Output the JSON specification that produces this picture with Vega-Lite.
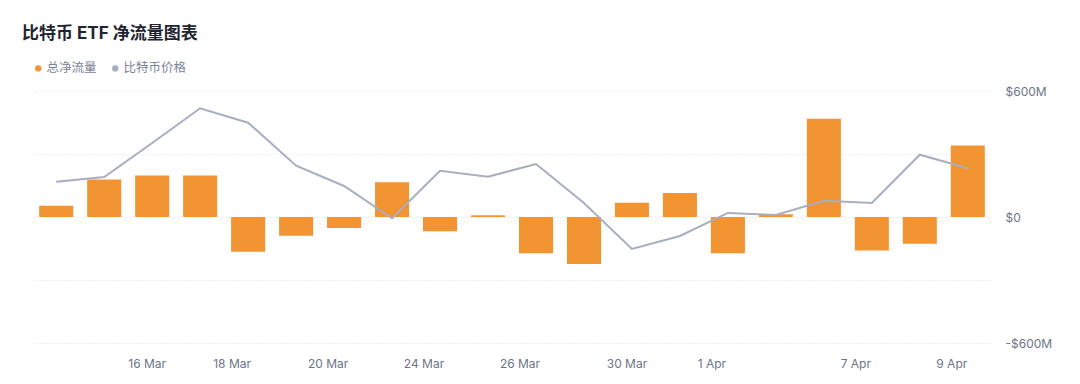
{
  "$schema": "https://vega.github.io/schema/vega-lite/v6.json",
  "width": 960,
  "height": 252,
  "autosize": {"type": "none"},
  "padding": {"left": 32, "top": 91, "right": 88, "bottom": 41},
  "background": "#ffffff",
  "config": {
    "view": {"stroke": null},
    "font": "Inter, \"Noto Sans CJK SC\", sans-serif"
  },
  "title": {
    "text": "比特币 ETF 净流量图表",
    "anchor": "start",
    "frame": "group",
    "dx": -10,
    "offset": 19,
    "fontSize": 17,
    "fontWeight": "bold",
    "color": "#222531",
    "font": "Inter, \"Noto Sans CJK SC\", sans-serif"
  },
  "data": {
    "values": [
      {"date": "12 Mar", "flow": 54, "price": 79200},
      {"date": "13 Mar", "flow": 179, "price": 79760},
      {"date": "16 Mar", "flow": 198, "price": 83810},
      {"date": "17 Mar", "flow": 198, "price": 87940},
      {"date": "18 Mar", "flow": -165, "price": 86230},
      {"date": "19 Mar", "flow": -89, "price": 81110},
      {"date": "20 Mar", "flow": -52, "price": 78690},
      {"date": "23 Mar", "flow": 165, "price": 74850},
      {"date": "24 Mar", "flow": -68, "price": 80510},
      {"date": "25 Mar", "flow": 8, "price": 79800},
      {"date": "26 Mar", "flow": -173, "price": 81310},
      {"date": "27 Mar", "flow": -224, "price": 76670},
      {"date": "30 Mar", "flow": 68, "price": 71190},
      {"date": "31 Mar", "flow": 114, "price": 72740},
      {"date": "1 Apr", "flow": -173, "price": 75480},
      {"date": "2 Apr", "flow": 13, "price": 75240},
      {"date": "6 Apr", "flow": 468, "price": 76940},
      {"date": "7 Apr", "flow": -159, "price": 76670},
      {"date": "8 Apr", "flow": -127, "price": 82420},
      {"date": "9 Apr", "flow": 341, "price": 80800}
    ]
  },
  "encoding": {
    "x": {
      "field": "date",
      "type": "ordinal",
      "sort": null,
      "title": null,
      "scale": {"paddingInner": 0.29, "paddingOuter": 0.15},
      "axis": {
        "values": ["16 Mar", "18 Mar", "20 Mar", "24 Mar", "26 Mar", "30 Mar", "1 Apr", "7 Apr", "9 Apr"],
        "labelAngle": 0,
        "domain": false,
        "ticks": false,
        "grid": false,
        "labelPadding": 15,
        "labelFontSize": 12,
        "labelColor": "#6B7588",
        "labelOffset": {"condition": {"test": "datum.value === '16 Mar' || datum.value === '30 Mar'", "value": -5}, "value": -16}
      }
    }
  },
  "layer": [
    {
      "mark": {"type": "bar", "color": "#F39432"},
      "encoding": {
        "y": {
          "field": "flow",
          "type": "quantitative",
          "title": null,
          "scale": {"domain": [-600, 600], "nice": false},
          "axis": {
            "orient": "right",
            "values": [-600, -300, 0, 300, 600],
            "labelExpr": "datum.value == 0 ? '$0' : (datum.value == 600 ? '$600M' : (datum.value == -600 ? '-$600M' : ''))",
            "domain": false,
            "ticks": false,
            "grid": true,
            "gridColor": "#DDE0E6",
            "gridDash": [1, 2],
            "gridWidth": 1,
            "labelPadding": 13,
            "labelAlign": "left",
            "labelFontSize": 12,
            "labelColor": "#6B7588"
          }
        },
        "color": {
          "datum": "总净流量",
          "scale": {"domain": ["总净流量", "比特币价格"], "range": ["#F39432", "#A9ADC1"]},
          "legend": {
            "title": null,
            "orient": "none",
            "legendX": 0,
            "legendY": -29,
            "direction": "horizontal",
            "symbolType": "circle",
            "symbolSize": 40,
            "symbolStrokeWidth": 0,
            "labelFontSize": 12.5,
            "labelColor": "#7A8496",
            "labelOffset": 2,
            "columnPadding": 12
          }
        }
      }
    },
    {
      "mark": {"type": "line", "color": "#A9ADC1", "strokeWidth": 2},
      "encoding": {
        "y": {
          "field": "price",
          "type": "quantitative",
          "scale": {"domain": [60000, 90000], "nice": false, "zero": false},
          "axis": null
        }
      }
    }
  ],
  "resolve": {"scale": {"y": "independent"}}
}
